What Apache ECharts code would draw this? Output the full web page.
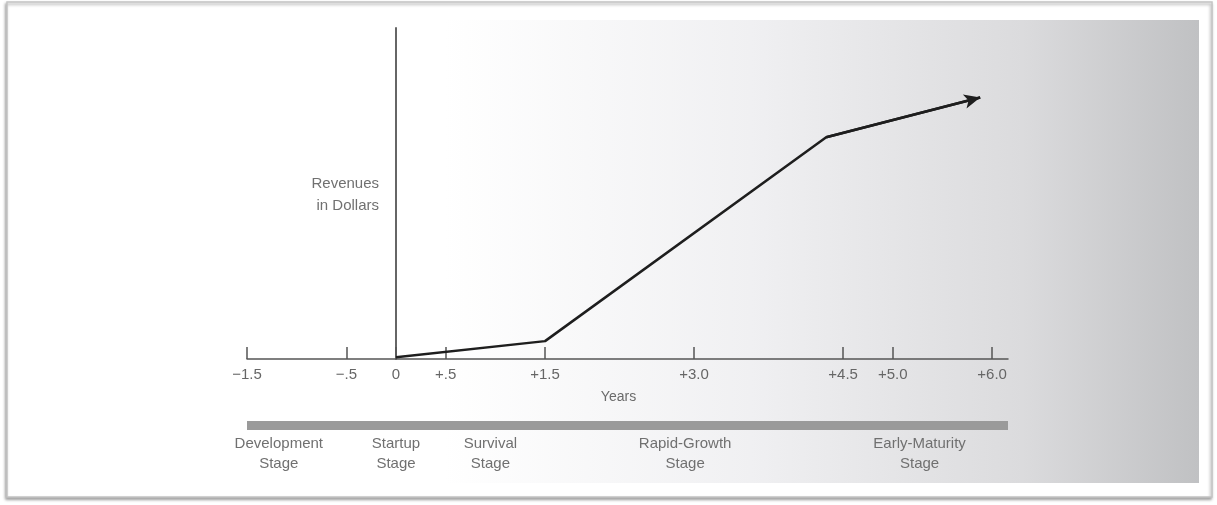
<!DOCTYPE html>
<html>
<head>
<meta charset="utf-8">
<script src="https://cdn.jsdelivr.net/npm/echarts@6/dist/echarts.min.js"></script>
<style>html,body{margin:0;padding:0;background:#fff}#c{width:1217px;height:505px}</style>
</head>
<body>
<div id="c"></div>
<script>
// Data
const revenueYears = [0, 1.5, 4.33, 5.88];
const revenueValues = [0.5, 5.4, 67, 79];
const xTickValues = [-1.5, -0.5, 0, 0.5, 1.5, 3.0, 4.5, 5.0, 6.0];
const xTickLabels = ['\u22121.5', '\u2212.5', '0', '+.5', '+1.5', '+3.0', '+4.5', '+5.0', '+6.0'];
const stageCenters = [-1.18, 0.0, 0.95, 2.91, 5.27];
const stageNames = ['Development\nStage', 'Startup\nStage', 'Survival\nStage', 'Rapid-Growth\nStage', 'Early-Maturity\nStage'];
const xAxisName = 'Years';
const yAxisName = 'Revenues\nin Dollars';

const lookup = (vals, labels) => (v) => {
  for (let i = 0; i < vals.length; i++) if (Math.abs(vals[i] - v) < 1e-6) return labels[i];
  return '';
};

const chart = echarts.init(document.getElementById('c'), null, {renderer: 'canvas'});
const FONT = "'Liberation Sans', Arial, sans-serif";
const lineData = revenueYears.map((x, i) => [x, revenueValues[i]]);
const n = lineData.length;

chart.setOption({
  animation: false,
  backgroundColor: '#ffffff',
  graphic: [
    {type: 'rect', z: -10, silent: true,
      shape: {x: 7, y: 2, width: 1205, height: 495},
      style: {fill: '#fff', stroke: '#c4c4c4', lineWidth: 1.5,
        shadowColor: 'rgba(0,0,0,0.35)', shadowBlur: 3, shadowOffsetX: -1, shadowOffsetY: 2}},
    {type: 'rect', z: -9, silent: true,
      shape: {x: 20, y: 20, width: 1179, height: 463},
      style: {fill: new echarts.graphic.LinearGradient(0, 0, 1, 0, [
        {offset: 0, color: '#ffffff'},
        {offset: 0.36, color: '#ffffff'},
        {offset: 0.62, color: '#f0f0f2'},
        {offset: 0.85, color: '#dbdbdd'},
        {offset: 1, color: '#c0c1c3'}
      ])}},
    {type: 'text', z: 10, silent: true, x: 379, y: 195,
      style: {text: yAxisName, fill: '#707070', font: "15px 'Liberation Sans', Arial, sans-serif",
        lineHeight: 22, align: 'right', verticalAlign: 'middle'}}
  ],
  grid: [
    {left: 247, right: 209, top: 28, bottom: 146},
    {left: 247, right: 209, top: 424, height: 1}
  ],
  xAxis: [
    {type: 'value', gridIndex: 0, min: -1.5, max: 6.16,
      name: xAxisName, nameLocation: 'middle', nameGap: 31,
      nameTextStyle: {color: '#6a6a6a', fontFamily: FONT, fontSize: 14, padding: [0, 18, 0, 0]},
      axisLine: {onZero: false, lineStyle: {color: '#555', width: 1.5}},
      axisTick: {show: true, inside: true, length: 12, customValues: xTickValues,
        lineStyle: {color: '#555', width: 1.5}},
      axisLabel: {customValues: xTickValues, formatter: lookup(xTickValues, xTickLabels),
        color: '#666', fontFamily: FONT, fontSize: 15, margin: 8},
      splitLine: {show: false}},
    {type: 'value', gridIndex: 1, min: -1.5, max: 6.16, position: 'bottom',
      axisLine: {lineStyle: {color: '#9a9a9a', width: 9, cap: 'butt'}},
      axisTick: {show: false},
      axisLabel: {customValues: stageCenters, formatter: lookup(stageCenters, stageNames),
        color: '#707070', fontFamily: FONT, fontSize: 15, lineHeight: 20, margin: 9},
      splitLine: {show: false}}
  ],
  yAxis: [
    {type: 'value', gridIndex: 0, min: 0, max: 100,
      axisLine: {show: true, onZero: true, lineStyle: {color: '#666', width: 2}},
      axisTick: {show: false}, axisLabel: {show: false}, splitLine: {show: false}},
    {type: 'value', gridIndex: 1, show: false}
  ],
  series: [{
    type: 'line', xAxisIndex: 0, yAxisIndex: 0,
    data: lineData, showSymbol: false, symbol: 'none',
    lineStyle: {color: '#1e1e1e', width: 2.5},
    markLine: {
      silent: true, symbol: ['none', 'arrow'], symbolSize: [11, 16],
      label: {show: false},
      lineStyle: {color: '#1e1e1e', width: 2.5, type: 'solid'},
      data: [[{coord: lineData[n - 2]}, {coord: lineData[n - 1]}]]
    }
  }]
});
</script>
</body>
</html>
